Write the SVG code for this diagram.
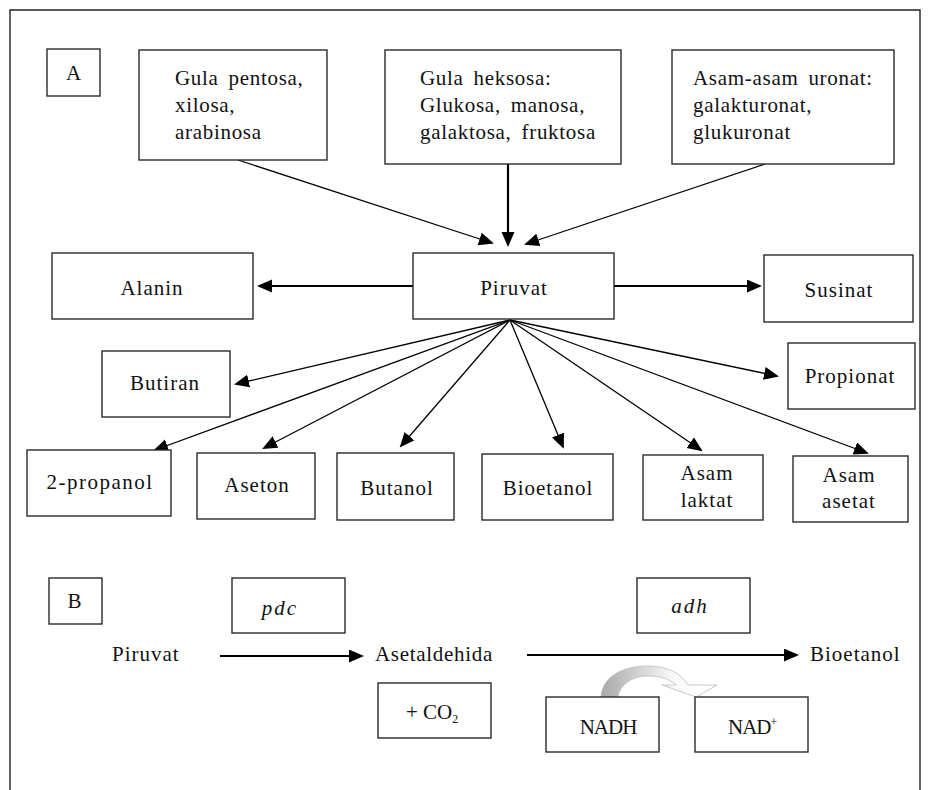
<svg xmlns="http://www.w3.org/2000/svg" width="931" height="790" viewBox="0 0 931 790">
<style>
.box{fill:#fff;stroke:#2a2a2a;stroke-width:1.4}
.t{font-family:"Liberation Serif","Times New Roman",serif;font-size:21px;fill:#111;letter-spacing:1px}
.tl{letter-spacing:0.7px;word-spacing:4px}
.c{text-anchor:middle}
.it{font-style:italic;letter-spacing:2px}
.tight{letter-spacing:-1px}
.thick{stroke:#000;stroke-width:2.2;fill:none}
.thin{stroke:#000;stroke-width:1.3;fill:none}
</style>
<defs>
<marker id="ah" markerUnits="userSpaceOnUse" markerWidth="16" markerHeight="14" refX="13" refY="6.5" orient="auto" viewBox="0 0 16 14">
<path d="M0,0 L15,6.5 L0,13 z" fill="#000"/>
</marker>
<marker id="ahs" markerUnits="userSpaceOnUse" markerWidth="16" markerHeight="14" refX="13" refY="6.5" orient="auto" viewBox="0 0 16 14">
<path d="M0,0 L15,6.5 L0,13 z" fill="#000"/>
</marker>
<linearGradient id="g" x1="601" y1="0" x2="700" y2="0" gradientUnits="userSpaceOnUse">
<stop offset="0" stop-color="#a8a8a8"/>
<stop offset="0.4" stop-color="#d4d4d4"/>
<stop offset="0.7" stop-color="#f6f6f6"/>
<stop offset="1" stop-color="#ffffff"/>
</linearGradient>
</defs>
<rect width="931" height="790" fill="#fff"/>
<path d="M10,790 V10 H920 V790" fill="none" stroke="#222" stroke-width="1.4"/>

<g id="connectors">
<line class="thin" x1="238" y1="160" x2="492" y2="243" marker-end="url(#ahs)"/>
<line class="thick" x1="508" y1="164" x2="508" y2="245" marker-end="url(#ah)"/>
<line class="thin" x1="765" y1="164" x2="526" y2="244" marker-end="url(#ahs)"/>
<line class="thick" x1="413" y1="286" x2="259" y2="286" marker-end="url(#ah)"/>
<line class="thick" x1="614" y1="286" x2="760" y2="286" marker-end="url(#ah)"/>
<line class="thin" x1="510" y1="320" x2="236" y2="384" marker-end="url(#ahs)"/>
<line class="thin" x1="510" y1="320" x2="155" y2="450" marker-end="url(#ahs)"/>
<line class="thin" x1="510" y1="320" x2="264" y2="448" marker-end="url(#ahs)"/>
<line class="thin" x1="510" y1="320" x2="401" y2="446" marker-end="url(#ahs)"/>
<line class="thin" x1="510" y1="320" x2="563" y2="447" marker-end="url(#ahs)"/>
<line class="thin" x1="510" y1="320" x2="701" y2="450" marker-end="url(#ahs)"/>
<line class="thin" x1="510" y1="320" x2="867" y2="453" marker-end="url(#ahs)"/>
<line class="thin" x1="510" y1="320" x2="777" y2="376" marker-end="url(#ahs)"/>
<line class="thick" x1="220" y1="656" x2="362" y2="656" marker-end="url(#ah)"/>
<line class="thick" x1="527" y1="655" x2="797" y2="655" marker-end="url(#ah)"/>
<path d="M601,697 C602,677 622,666 648,666 C668,666 682,674 688,685 L717,685 L696,697 L662,685 L676,685 C670,679 660,676 648,676 C633,676 620,684 618,697 Z" fill="url(#g)" stroke="#bdbdbd" stroke-width="0.8"/>
</g>

<g id="labelA"><rect class="box" x="47" y="49" width="53" height="47"/><text class="t c" x="74" y="80">A</text></g>
<g id="pentosa"><rect class="box" x="139" y="50" width="188" height="110"/>
<text class="t tl" x="175" y="85">Gula pentosa,</text><text class="t tl" x="175" y="112">xilosa,</text><text class="t tl" x="175" y="139">arabinosa</text></g>
<g id="heksosa"><rect class="box" x="385" y="50" width="236" height="114"/>
<text class="t tl" x="420" y="85">Gula heksosa:</text><text class="t tl" x="420" y="112">Glukosa, manosa,</text><text class="t tl" x="420" y="139">galaktosa, fruktosa</text></g>
<g id="uronat"><rect class="box" x="672" y="50" width="222" height="114"/>
<text class="t tl" x="693" y="85">Asam-asam uronat:</text><text class="t tl" x="693" y="112">galakturonat,</text><text class="t tl" x="693" y="139">glukuronat</text></g>

<g id="piruvat"><rect class="box" x="413" y="253" width="201" height="66"/><text class="t c" x="514" y="295">Piruvat</text></g>
<g id="alanin"><rect class="box" x="52" y="253" width="201" height="66"/><text class="t c" x="152" y="295">Alanin</text></g>
<g id="susinat"><rect class="box" x="764" y="255" width="149" height="67"/><text class="t c" x="839" y="297">Susinat</text></g>
<g id="butiran"><rect class="box" x="102" y="351" width="128" height="66"/><text class="t c" x="165" y="390">Butiran</text></g>
<g id="propionat"><rect class="box" x="788" y="343" width="127" height="66"/><text class="t c" x="850" y="383">Propionat</text></g>
<g id="propanol"><rect class="box" x="27" y="450" width="144" height="66"/><text class="t c" x="100" y="489" style="letter-spacing:1.5px">2-propanol</text></g>
<g id="aseton"><rect class="box" x="197" y="453" width="118" height="66"/><text class="t c" x="257" y="492">Aseton</text></g>
<g id="butanol"><rect class="box" x="337" y="453" width="117" height="67"/><text class="t c" x="397" y="495">Butanol</text></g>
<g id="bioetanol"><rect class="box" x="482" y="454" width="131" height="66"/><text class="t c" x="548" y="495">Bioetanol</text></g>
<g id="laktat"><rect class="box" x="643" y="455" width="120" height="65"/><text class="t c" x="707" y="480">Asam</text><text class="t c" x="707" y="507">laktat</text></g>
<g id="asetat"><rect class="box" x="793" y="456" width="115" height="66"/><text class="t c" x="849" y="482">Asam</text><text class="t c" x="849" y="508">asetat</text></g>

<g id="labelB"><rect class="box" x="49" y="578" width="53" height="46"/><text class="t c" x="75" y="608">B</text></g>
<g id="pdc"><rect class="box" x="232" y="578" width="113" height="55"/><text class="t it c" x="280" y="615">pdc</text></g>
<g id="piruvatB"><text class="t" x="112" y="661">Piruvat</text></g>
<g id="asetaldehida"><text class="t" x="375" y="661" style="letter-spacing:0.7px">Asetaldehida</text></g>
<g id="co2"><rect class="box" x="378" y="683" width="113" height="55"/><text class="t" x="406" y="719" style="letter-spacing:0">+ CO<tspan font-size="12" dy="4">2</tspan></text></g>
<g id="adh"><rect class="box" x="637" y="578" width="113" height="55"/><text class="t it c" x="690" y="613">adh</text></g>
<g id="bioetanolB"><text class="t" x="810" y="661">Bioetanol</text></g>
<g id="nadh"><rect class="box" x="546" y="697" width="113" height="55"/><text class="t tight c" x="608" y="734">NADH</text></g>
<g id="nad"><rect class="box" x="695" y="697" width="113" height="55"/><text class="t tight" x="728" y="734">NAD<tspan font-size="12" dy="-8">+</tspan></text></g>
</svg>
